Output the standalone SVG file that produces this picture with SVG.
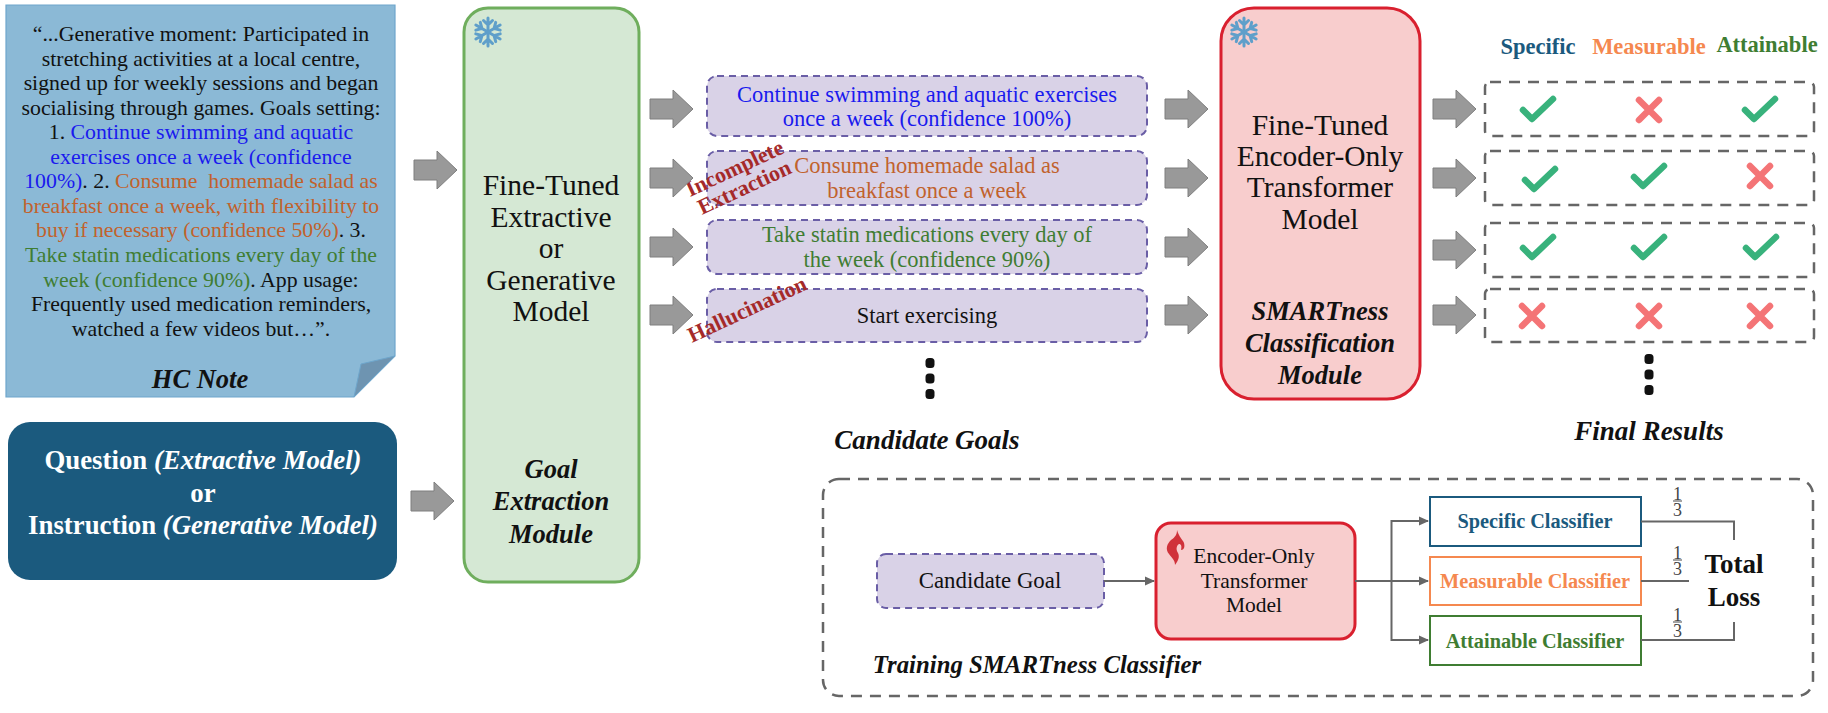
<svg xmlns="http://www.w3.org/2000/svg" xmlns:xlink="http://www.w3.org/1999/xlink" width="1828" height="713" viewBox="0 0 1828 713">
<style>
text{font-family:"Liberation Serif","Times New Roman",serif;text-anchor:middle;fill:#111}
.bi{font-weight:bold;font-style:italic}
.b{font-weight:bold}
.note{font-size:21.800px}
.main{font-size:29.500px}
.mod{font-size:26.500px;font-weight:bold;font-style:italic}
.cand{font-size:22.500px}
.blue{fill:#1a1aee}.org{fill:#c1622d}.grn{fill:#3f7d32}
.hdr{font-size:22.500px;font-weight:bold}
.cbox{fill:#d9d2e7;stroke:#6a5ea6;stroke-width:2;stroke-dasharray:7 5}
.rbox{fill:none;stroke:#666;stroke-width:2.500;stroke-dasharray:11 8}
.err{font-size:22px;font-weight:bold;fill:#a52a2a}
.tiny{font-size:21.500px}
.clf{font-size:20.300px;font-weight:bold}
.ln{fill:none;stroke:#666;stroke-width:2}
.frac{font-size:18px;fill:#444}
.ck{fill:none;stroke:#38b27c;stroke-width:6.500;stroke-linecap:round;stroke-linejoin:round}
.xx{fill:none;stroke:#f47476;stroke-width:6.500;stroke-linecap:round}
.dot{fill:#111}
.arr{fill:#999;stroke:#7f7f7f;stroke-width:1}
</style>
<defs>
<path id="arw" d="M0,-10H23V-19L43,0L23,19V10H0Z" class="arr"/>
<marker id="tip" markerUnits="userSpaceOnUse" markerWidth="10" markerHeight="10" refX="9" refY="5" orient="auto"><path d="M0,0.500L10,5L0,9.500Z" fill="#666"/></marker>
<g id="flake" fill="none" stroke="#5f9fca" stroke-width="3" stroke-linecap="round">
<g id="fa"><path d="M0,-14V14M-4.500,-11.500L0,-7L4.500,-11.500M-4.500,11.500L0,7L4.500,11.500"/></g>
<use xlink:href="#fa" href="#fa" transform="rotate(60)"/>
<use xlink:href="#fa" href="#fa" transform="rotate(120)"/>
</g>
<path id="check" class="ck" d="M-15,1L-6,10L15,-10"/>
<path id="cross" class="xx" d="M-10,-10L10,10M10,-10L-10,10"/>
<g id="dots"><rect x="-4.500" y="-5" width="9" height="10" rx="3.500" class="dot"/><rect x="-4.500" y="10.500" width="9" height="10" rx="3.500" class="dot"/><rect x="-4.500" y="26" width="9" height="10" rx="3.500" class="dot"/></g>
<g id="frac"><text x="0" y="-1" class="frac">1</text><line x1="-4.500" x2="4.500" y1="0" y2="0" stroke="#666" stroke-width="1.200"/><text x="0" y="14.500" class="frac">3</text></g>
</defs>

<g id="hc-note">
<path d="M6,5H395V356L354,397H6Z" fill="#8bb9d6" stroke="#6ea6cc" stroke-width="1.200"/>
<path d="M395,356L361,364L354,397Z" fill="#6e94b1" stroke="#6ea6cc" stroke-width="1"/>
<g class="note">
<text x="201" y="41">“...Generative moment: Participated in</text>
<text x="201" y="66">stretching activities at a local centre,</text>
<text x="201" y="90">signed up for weekly sessions and began</text>
<text x="201" y="115">socialising through games. Goals setting:</text>
<text x="201" y="139">1. <tspan class="blue">Continue swimming and aquatic</tspan></text>
<text x="201" y="164" class="blue">exercises once a week (confidence</text>
<text x="201" y="188" style="white-space:pre"><tspan class="blue">100%)</tspan>. 2. <tspan class="org">Consume  homemade salad as</tspan></text>
<text x="201" y="213" class="org">breakfast once a week, with flexibility to</text>
<text x="201" y="237"><tspan class="org">buy if necessary (confidence 50%)</tspan>. 3.</text>
<text x="201" y="262" class="grn">Take statin medications every day of the</text>
<text x="201" y="287"><tspan class="grn">week (confidence 90%)</tspan>. App usage:</text>
<text x="201" y="311">Frequently used medication reminders,</text>
<text x="201" y="336">watched a few videos but…”.</text>
</g>
<text x="200" y="388" class="mod">HC Note</text>
</g>

<g id="question">
<rect x="8" y="422" width="389" height="158" rx="22" fill="#1b5a7e"/>
<g font-size="26.800">
<text x="203" y="469" class="b" style="fill:#fff">Question <tspan class="bi" style="fill:#fff">(Extractive Model)</tspan></text>
<text x="203" y="502" class="b" style="fill:#fff">or</text>
<text x="203" y="534" class="b" style="fill:#fff">Instruction <tspan class="bi" style="fill:#fff">(Generative Model)</tspan></text>
</g>
</g>

<g id="goal-extraction">
<rect x="464" y="8" width="175" height="574" rx="24" fill="#d5e8d4" stroke="#6fae5d" stroke-width="3"/>
<use xlink:href="#flake" href="#flake" x="488" y="32"/>
<g class="main">
<text x="551" y="195">Fine-Tuned</text>
<text x="551" y="227">Extractive</text>
<text x="551" y="258">or</text>
<text x="551" y="290">Generative</text>
<text x="551" y="321">Model</text>
</g>
<text x="551" y="478" class="mod">Goal</text>
<text x="551" y="510" class="mod">Extraction</text>
<text x="551" y="543" class="mod">Module</text>
</g>

<g id="candidate-1"><rect x="707" y="76" width="440" height="60" rx="10" class="cbox"/>
<text x="927" y="102" class="cand blue">Continue swimming and aquatic exercises</text>
<text x="927" y="126" class="cand blue">once a week (confidence 100%)</text></g>
<g id="candidate-2"><rect x="707" y="151" width="440" height="54" rx="10" class="cbox"/>
<text x="927" y="173" class="cand org">Consume homemade salad as</text>
<text x="927" y="198" class="cand org">breakfast once a week</text></g>
<g id="candidate-3"><rect x="707" y="220" width="440" height="54" rx="10" class="cbox"/>
<text x="927" y="242" class="cand grn">Take statin medications every day of</text>
<text x="927" y="267" class="cand grn">the week (confidence 90%)</text></g>
<g id="candidate-4"><rect x="707" y="289" width="440" height="53" rx="10" class="cbox"/>
<text x="927" y="323" class="cand">Start exercising</text></g>
<use id="dots-candidates" xlink:href="#dots" href="#dots" x="930" y="363"/>
<text id="candidate-goals-label" x="927" y="449" font-size="27" class="bi">Candidate Goals</text>

<g id="error-labels">
<text class="err" x="0" y="0" style="text-anchor:start" transform="translate(690,197) rotate(-25)">Incomplete</text>
<text class="err" x="0" y="0" style="text-anchor:start" transform="translate(702,215) rotate(-25)">Extraction</text>
<text class="err" x="0" y="0" style="text-anchor:start" transform="translate(692,343) rotate(-25)">Hallucination</text>
</g>

<g id="smartness-module">
<rect x="1221" y="8" width="199" height="391" rx="33" fill="#f8cdcd" stroke="#d9202f" stroke-width="3"/>
<use xlink:href="#flake" href="#flake" x="1244" y="32"/>
<g class="main">
<text x="1320" y="135">Fine-Tuned</text>
<text x="1320" y="166">Encoder-Only</text>
<text x="1320" y="197">Transformer</text>
<text x="1320" y="229">Model</text>
</g>
<text x="1320" y="320" class="mod">SMARTness</text>
<text x="1320" y="352" class="mod">Classification</text>
<text x="1320" y="384" class="mod">Module</text>
</g>

<g id="headers">
<text x="1538" y="54" class="hdr" style="fill:#1b5a7e">Specific</text>
<text x="1649" y="54" class="hdr" style="fill:#f5884f">Measurable</text>
<text x="1767" y="52" class="hdr" style="fill:#3f7d32">Attainable</text>
</g>

<g id="result-1"><rect x="1485" y="82" width="329" height="54" rx="5" class="rbox"/>
<use xlink:href="#check" href="#check" x="1538" y="109"/><use xlink:href="#cross" href="#cross" x="1649" y="110"/><use xlink:href="#check" href="#check" x="1760" y="109"/></g>
<g id="result-2"><rect x="1485" y="151" width="329" height="54" rx="5" class="rbox"/>
<use xlink:href="#check" href="#check" x="1540" y="179"/><use xlink:href="#check" href="#check" x="1649" y="176"/><use xlink:href="#cross" href="#cross" x="1760" y="176"/></g>
<g id="result-3"><rect x="1485" y="223" width="329" height="54" rx="5" class="rbox"/>
<use xlink:href="#check" href="#check" x="1538" y="247"/><use xlink:href="#check" href="#check" x="1649" y="247"/><use xlink:href="#check" href="#check" x="1761" y="247"/></g>
<g id="result-4"><rect x="1485" y="289" width="329" height="53" rx="5" class="rbox"/>
<use xlink:href="#cross" href="#cross" x="1532" y="316"/><use xlink:href="#cross" href="#cross" x="1649" y="316"/><use xlink:href="#cross" href="#cross" x="1760" y="316"/></g>
<use id="dots-results" xlink:href="#dots" href="#dots" x="1649" y="359"/>
<text id="final-results-label" x="1649" y="440" font-size="27" class="bi">Final Results</text>

<g id="training">
<rect x="823" y="479" width="990" height="217" rx="16" class="rbox"/>
<text x="1037" y="673" font-size="24.800" class="bi">Training SMARTness Classifier</text>
</g>
<g id="candidate-goal"><rect x="877" y="554" width="227" height="54" rx="9" class="cbox"/>
<text x="990" y="588" style="font-size:22.800px">Candidate Goal</text></g>
<g id="encoder">
<rect x="1156" y="523" width="199" height="116" rx="15" fill="#f8cdcd" stroke="#d9202f" stroke-width="3"/>
<path d="M1177,530C1179,537 1183,540 1184,543C1185,547 1184,550 1181,550C1182,546 1181,544 1179,544C1176,546 1176,550 1178,553C1180,557 1178,561 1175,565C1175,560 1172,558 1169,554C1165,549 1167,544 1171,540C1175,537 1177,535 1177,530Z" fill="#d0323a"/>
<text x="1254" y="563" class="tiny">Encoder-Only</text>
<text x="1254" y="588" class="tiny">Transformer</text>
<text x="1254" y="612" class="tiny">Model</text>
</g>
<g id="specific-classifier"><rect x="1430" y="497" width="211" height="49" fill="#fff" stroke="#1b5a7e" stroke-width="2"/>
<text x="1535" y="528" class="clf" style="fill:#1b5a7e">Specific Classifier</text></g>
<g id="measurable-classifier"><rect x="1430" y="557" width="211" height="48" fill="#fff" stroke="#f5884f" stroke-width="2"/>
<text x="1535" y="588" class="clf" style="fill:#f5884f">Measurable Classifier</text></g>
<g id="attainable-classifier"><rect x="1430" y="616" width="211" height="49" fill="#fff" stroke="#3f7d32" stroke-width="2"/>
<text x="1535" y="648" class="clf" style="fill:#3f7d32">Attainable Classifier</text></g>
<g id="total-loss">
<text x="1734" y="573" font-size="27" class="b">Total</text>
<text x="1734" y="606" font-size="27" class="b">Loss</text>
</g>
<use xlink:href="#frac" href="#frac" x="1677.500" y="501"/>
<use xlink:href="#frac" href="#frac" x="1677.500" y="560"/>
<use xlink:href="#frac" href="#frac" x="1677.500" y="622"/>

<g id="connectors">
<use xlink:href="#arw" href="#arw" x="414" y="170"/>
<use xlink:href="#arw" href="#arw" x="411" y="501"/>
<use xlink:href="#arw" href="#arw" x="650" y="109"/>
<use xlink:href="#arw" href="#arw" x="650" y="178"/>
<use xlink:href="#arw" href="#arw" x="650" y="247"/>
<use xlink:href="#arw" href="#arw" x="650" y="315"/>
<use xlink:href="#arw" href="#arw" x="1165" y="109"/>
<use xlink:href="#arw" href="#arw" x="1165" y="178"/>
<use xlink:href="#arw" href="#arw" x="1165" y="247"/>
<use xlink:href="#arw" href="#arw" x="1165" y="315"/>
<use xlink:href="#arw" href="#arw" x="1433" y="109"/>
<use xlink:href="#arw" href="#arw" x="1433" y="178"/>
<use xlink:href="#arw" href="#arw" x="1433" y="250"/>
<use xlink:href="#arw" href="#arw" x="1433" y="315"/>
<path class="ln" d="M1104,581H1154" marker-end="url(#tip)"/>
<path class="ln" d="M1355,581H1428" marker-end="url(#tip)"/>
<path class="ln" d="M1391.500,581V521H1428" marker-end="url(#tip)"/>
<path class="ln" d="M1391.500,581V640H1428" marker-end="url(#tip)"/>
<path class="ln" d="M1641,521.500H1734V540"/>
<path class="ln" d="M1641,581H1689"/>
<path class="ln" d="M1641,640H1734V622"/>
</g>
</svg>
